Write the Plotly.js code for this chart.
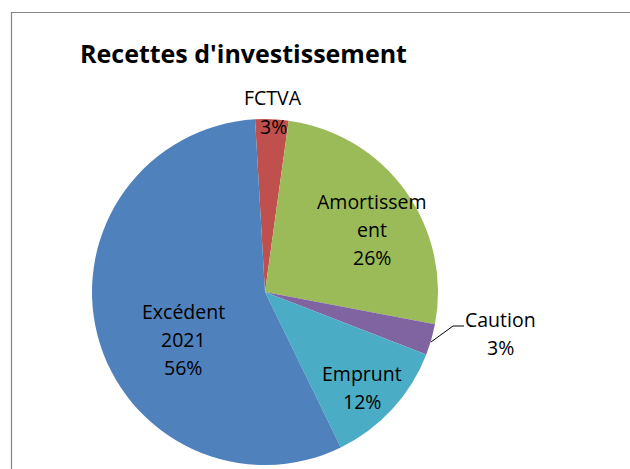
<!DOCTYPE html>
<html><head><meta charset="utf-8">
<script src="https://cdn.plot.ly/plotly-3.0.1.min.js"></script>
<style>html,body{margin:0;padding:0;background:#fff}#chart{width:630px;height:469px}</style>
</head><body><div id="chart"></div>
<script>
const categories = ["FCTVA", "Amortissement", "Caution", "Emprunt", "Excédent 2021"];
const values = [3.1, 25.8, 2.9, 11.9, 56.3];
const labelLines = [["FCTVA"], ["Amortissem", "ent"], ["Caution"], ["Emprunt"], ["Excédent", "2021"]];
const colors = ["#C0504D", "#9BBB59", "#8064A2", "#4BACC6", "#4F81BD"];
const chartTitle = "Recettes d'investissement";

const W = 630, H = 469;
const px = x => x / W, py = y => 1 - y / H;
const cx = 265, cy = 292, r = 173;
const labelPos = [[273, 98], [372, 201], [501, 319], [362, 373], [183, 311]];
const lineGap = 28;
const total = values.reduce((a, b) => a + b, 0);

const annotations = [];
categories.forEach((c, i) => {
  const lines = labelLines[i].concat([Math.round(values[i] / total * 100) + '%']);
  lines.forEach((t, j) => {
    annotations.push({
      text: t, x: px(labelPos[i][0]), y: py(labelPos[i][1] + j * lineGap),
      xref: 'paper', yref: 'paper', xanchor: 'center', yanchor: 'middle',
      showarrow: false, font: {family: 'Open Sans', size: 19.5, color: '#000'}
    });
  });
});

const shapes = [
  {type: 'rect', xref: 'paper', yref: 'paper', x0: px(11.5), x1: px(700), y0: py(520), y1: py(12.5),
   line: {color: '#868686', width: 1.2}, fillcolor: 'rgba(0,0,0,0)', layer: 'below'},
  {type: 'path', xref: 'paper', yref: 'paper',
   path: `M ${px(431)} ${py(342)} L ${px(453)} ${py(326)} L ${px(464)} ${py(326)}`,
   line: {color: '#000', width: 1}}
];

const data = [{
  type: 'pie', labels: categories, values: values, sort: false,
  direction: 'clockwise', rotation: -3.3,
  marker: {colors: colors, line: {width: 0}},
  textinfo: 'none', hoverinfo: 'label+percent', showlegend: false,
  domain: {x: [px(cx - r), px(cx + r)], y: [py(cy + r), py(cy - r)]}
}];

const layout = {
  width: W, height: H, margin: {l: 0, r: 0, t: 0, b: 0},
  paper_bgcolor: '#fff', plot_bgcolor: '#fff', showlegend: false,
  title: {text: chartTitle, font: {family: 'Open Sans', size: 25, weight: 700, color: '#000'},
    x: px(80), xanchor: 'left', xref: 'paper', y: py(54), yref: 'paper', yanchor: 'middle'},
  annotations: annotations, shapes: shapes
};

Plotly.newPlot('chart', data, layout, {displayModeBar: false, staticPlot: true});
</script></body></html>
